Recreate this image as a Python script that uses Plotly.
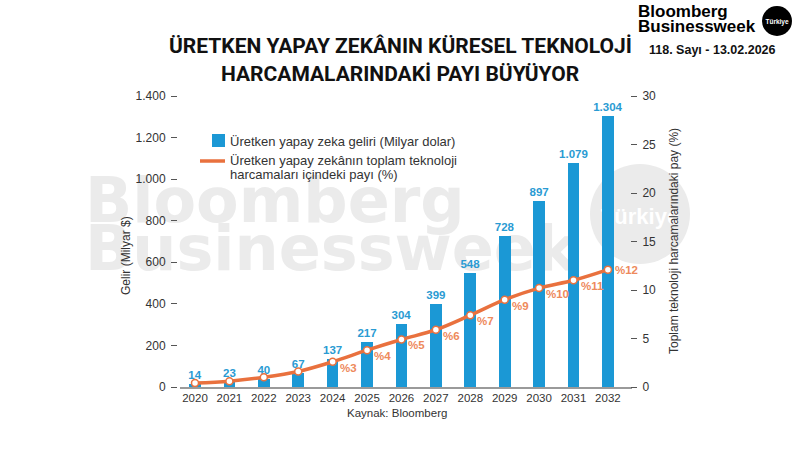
import plotly.graph_objects as go

# ---------------- data ----------------
years = [2020, 2021, 2022, 2023, 2024, 2025, 2026, 2027, 2028, 2029, 2030, 2031, 2032]
year_labels = ["2020", "2021", "2022", "2023", "2024", "2025", "2026", "2027",
               "2028", "2029", "2030", "2031", "2032"]
revenue = [14, 23, 40, 67, 137, 217, 304, 399, 548, 728, 897, 1079, 1304]
revenue_labels = ["14", "23", "40", "67", "137", "217", "304", "399", "548",
                  "728", "897", "1.079", "1.304"]
share = [0.4, 0.6, 1.0, 1.6, 2.6, 3.8, 4.9, 5.9, 7.4, 9.0, 10.2, 11.0, 12.1]
share_labels = ["", "", "", "", "%3", "%4", "%5", "%6", "%7", "%9", "%10", "%11", "%12"]
left_tickvals = [0, 200, 400, 600, 800, 1000, 1200, 1400]
left_ticktext = ["0", "200", "400", "600", "800", "1.000", "1.200", "1.400"]
right_tickvals = [0, 5, 10, 15, 20, 25, 30]
right_ticktext = ["0", "5", "10", "15", "20", "25", "30"]

title_lines = ["ÜRETKEN YAPAY ZEKÂNIN KÜRESEL TEKNOLOJİ", "HARCAMALARINDAKİ PAYI BÜYÜYOR"]
legend_bar = "Üretken yapay zeka geliri (Milyar dolar)"
legend_line = ["Üretken yapay zekânın toplam teknoloji", "harcamaları içindeki payı (%)"]
left_title = "Gelir (Milyar $)"
right_title = "Toplam teknoloji harcamalarındaki pay (%)"
source = "Kaynak: Bloomberg"
issue = "118. Sayı - 13.02.2026"

# ---------------- style ----------------
W, H = 800, 450
BLUE = "#1b98d5"
BLUE_TXT = "#2a9bd3"
ORANGE = "#e9713e"
ORANGE_TXT = "#ee8a5c"
TXT = "#333333"
WM = "#ebebeb"
SANS = "Liberation Sans, Arial, sans-serif"
TITLE_FONT = "Roboto, Liberation Sans, Arial, sans-serif"


def px(x):
    return x / W


def py(y):
    return 1 - y / H


fig = go.Figure()

fig.add_trace(go.Bar(
    x=years, y=revenue, yaxis="y", width=0.34,
    marker=dict(color=BLUE, line=dict(width=0)),
    text=revenue_labels, textposition="outside", cliponaxis=False,
    constraintext="none", textangle=0,
    textfont=dict(family=SANS, size=11.5, color=BLUE_TXT, weight="bold"),
    showlegend=False, hoverinfo="skip",
))

fig.add_trace(go.Scatter(
    x=years, y=share, yaxis="y2", mode="lines+markers",
    line=dict(color=ORANGE, width=3.5, shape="spline", smoothing=1),
    marker=dict(size=7, color="white", line=dict(color=ORANGE, width=1.5)),
    cliponaxis=False, showlegend=False, hoverinfo="skip",
))

annotations = []
label_dy = [-6] * 12 + [0]
for yr, v, lab, dy in zip(years, share, share_labels, label_dy):
    if lab:
        annotations.append(dict(
            x=yr, y=v, xref="x", yref="y2", text=lab, showarrow=False,
            xanchor="left", yanchor="middle", xshift=5, yshift=dy,
            font=dict(family=SANS, size=11.5, color=ORANGE_TXT, weight="bold"),
        ))

# title
for t, yy in zip(title_lines, [46, 74]):
    annotations.append(dict(
        x=px(400), y=py(yy), xref="paper", yref="paper", text=t, showarrow=False,
        xanchor="center", yanchor="middle",
        font=dict(family=TITLE_FONT, size=21, color="#111111", weight="bold"),
    ))

# header logo text
annotations += [
    dict(x=px(636), y=py(12), xref="paper", yref="paper", text="Bloomberg",
         showarrow=False, xanchor="left", yanchor="middle",
         font=dict(family=SANS, size=17, color="#000000", weight="bold")),
    dict(x=px(636), y=py(26), xref="paper", yref="paper", text="Businessweek",
         showarrow=False, xanchor="left", yanchor="middle",
         font=dict(family=SANS, size=17, color="#000000", weight="bold")),
    dict(x=px(647), y=py(50), xref="paper", yref="paper", text=issue,
         showarrow=False, xanchor="left", yanchor="middle",
         font=dict(family=SANS, size=12.5, color="#111111", weight="bold")),
]

# legend text
annotations += [
    dict(x=px(228), y=py(141), xref="paper", yref="paper", text=legend_bar,
         showarrow=False, xanchor="left", yanchor="middle",
         font=dict(family=SANS, size=13, color=TXT)),
    dict(x=px(228), y=py(160), xref="paper", yref="paper", text=legend_line[0],
         showarrow=False, xanchor="left", yanchor="middle",
         font=dict(family=SANS, size=13, color=TXT)),
    dict(x=px(228), y=py(175), xref="paper", yref="paper", text=legend_line[1],
         showarrow=False, xanchor="left", yanchor="middle",
         font=dict(family=SANS, size=13, color=TXT)),
]

# axis titles and source
annotations += [
    dict(x=px(126), y=py(256), xref="paper", yref="paper", text=left_title,
         showarrow=False, textangle=-90, xanchor="center", yanchor="middle",
         font=dict(family=SANS, size=12, color=TXT)),
    dict(x=px(674), y=py(241), xref="paper", yref="paper", text=right_title,
         showarrow=False, textangle=-90, xanchor="center", yanchor="middle",
         font=dict(family=SANS, size=12, color=TXT)),
    dict(x=px(397), y=py(413), xref="paper", yref="paper", text=source,
         showarrow=False, xanchor="center", yanchor="middle",
         font=dict(family=SANS, size=11.5, color=TXT)),
]

shapes = [
    # watermark
    dict(type="rect", xref="paper", yref="paper", layer="below",
         x0=px(82), x1=px(600), y0=py(222), y1=py(170),
         line=dict(width=0), fillcolor="rgba(0,0,0,0)",
         label=dict(text="<b>Bloomberg</b>", textposition="middle left", padding=0,
                    font=dict(family="DejaVu Sans, sans-serif", size=62, color=WM))),
    dict(type="rect", xref="paper", yref="paper", layer="below",
         x0=px(82), x1=px(700), y0=py(270), y1=py(218),
         line=dict(width=0), fillcolor="rgba(0,0,0,0)",
         label=dict(text="<b>Businessweek</b>", textposition="middle left", padding=0,
                    font=dict(family="DejaVu Sans, sans-serif", size=62, color=WM))),
    dict(type="circle", xref="paper", yref="paper", layer="below",
         x0=px(590), x1=px(690), y0=py(264), y1=py(164),
         line=dict(width=0), fillcolor=WM,
         label=dict(text="<b>Türkiye</b>", textposition="middle center", padding=0,
                    font=dict(family=SANS, size=22, color="white"))),
    # header badge
    dict(type="circle", xref="paper", yref="paper",
         x0=px(762), x1=px(792), y0=py(36), y1=py(6),
         line=dict(width=0), fillcolor="#000000",
         label=dict(text="<b>Türkiye</b>", textposition="middle center", padding=0,
                    font=dict(family=SANS, size=6.5, color="white"))),
    # legend swatches
    dict(type="rect", xref="paper", yref="paper",
         x0=px(212), x1=px(225), y0=py(147), y1=py(134),
         line=dict(width=0), fillcolor=BLUE),
    dict(type="line", xref="paper", yref="paper",
         x0=px(200), x1=px(225), y0=py(161), y1=py(161),
         line=dict(width=3.5, color=ORANGE)),
]

fig.update_layout(
    width=W, height=H,
    margin=dict(l=0, r=0, t=0, b=0, pad=0, autoexpand=False),
    paper_bgcolor="white", plot_bgcolor="rgba(0,0,0,0)",
    font=dict(family=SANS, color=TXT),
    bargap=0,
    xaxis=dict(
        domain=[px(180), px(632)], range=[2019.564, 2032.70],
        tickvals=years, ticktext=year_labels, ticks="",
        tickfont=dict(size=11.5, color=TXT), ticklabelstandoff=0,
        showline=True, linecolor="#9a9a9a", linewidth=1.5,
        showgrid=False, zeroline=False, fixedrange=True, automargin=False,
    ),
    yaxis=dict(
        domain=[py(387), py(96)], range=[0, 1400],
        anchor="free", position=px(177),
        tickvals=left_tickvals, ticktext=left_ticktext,
        ticks="outside", ticklen=6, tickwidth=1, tickcolor="#555555",
        tickfont=dict(size=12, color=TXT), ticklabelstandoff=3,
        showline=False, showgrid=False, zeroline=False, fixedrange=True,
        automargin=False,
    ),
    yaxis2=dict(
        domain=[py(387), py(96)], range=[0, 30],
        overlaying="y", side="right", anchor="free", position=px(630),
        tickvals=right_tickvals, ticktext=right_ticktext,
        ticks="outside", ticklen=6, tickwidth=1, tickcolor="#555555",
        tickfont=dict(size=12, color=TXT), ticklabelstandoff=3,
        showline=False, showgrid=False, zeroline=False, fixedrange=True,
        automargin=False,
    ),
    annotations=annotations,
    shapes=shapes,
)

fig.write_html(
    "out.html",
    config={"displayModeBar": False, "staticPlot": True},
    post_script="document.body.style.margin='0';document.body.style.overflow='hidden';",
)
